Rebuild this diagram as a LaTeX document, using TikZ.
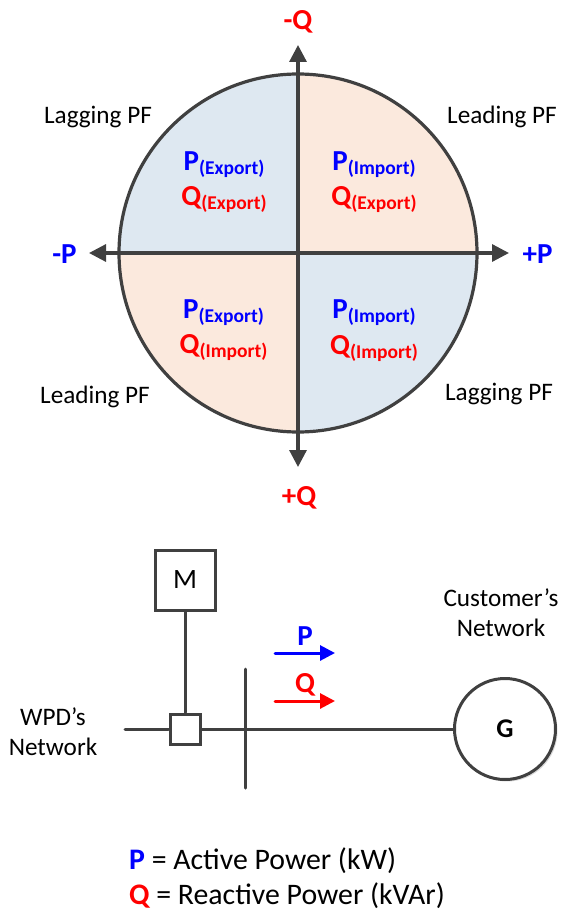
\documentclass[tikz,border=0pt]{standalone}
\usepackage{fontspec}
\setmainfont{Carlito}
\usetikzlibrary{arrows.meta,shadows}
\definecolor{ln}{HTML}{404040}
\definecolor{qb}{HTML}{DEE8F1}
\definecolor{qo}{HTML}{FBE9DD}
\definecolor{pblue}{HTML}{0000FF}
\definecolor{qred}{HTML}{FF0000}
\tikzset{
  axis/.style={draw=ln,line width=3.2pt,-{Triangle[length=17pt,width=17pt]}},
  bline/.style={draw=ln,line width=3pt,line cap=round},
  soft/.style={drop shadow={shadow xshift=2pt,shadow yshift=-2pt,opacity=.25,fill=black!60}},
  box/.style={draw=ln,line width=3pt,fill=white,minimum size=#1,inner sep=0pt,soft},
  lbl/.style={font=\fontsize{25.2}{30}\selectfont,text=black,align=center,inner sep=0pt},
  bigP/.style={font=\fontsize{29}{32}\selectfont\bfseries,text=pblue,inner sep=0pt},
  bigQ/.style={font=\fontsize{29}{32}\selectfont\bfseries,text=qred,inner sep=0pt},
  quadP/.style={text=pblue,font=\bfseries,inner sep=0pt},
  quadQ/.style={text=qred,font=\bfseries,inner sep=0pt},
  flowP/.style={draw=pblue,line width=3pt,line cap=round,-{Triangle[length=15pt,width=15pt]}},
  flowQ/.style={draw=qred,line width=3pt,line cap=round,-{Triangle[length=15pt,width=15pt]}},
}
\newcommand{\sbP}[1]{{\fontsize{29}{32}\selectfont P}\raisebox{-4pt}{\fontsize{19.5}{22}\selectfont(#1)}}
\newcommand{\sbQ}[1]{{\fontsize{29}{32}\selectfont Q}\raisebox{-4pt}{\fontsize{19.5}{22}\selectfont(#1)}}
\begin{document}
\begin{tikzpicture}[x=1pt,y=-1pt]
\useasboundingbox (0,0) rectangle (565,912);
% quadrants
\begin{scope}
\clip (298,253) circle[radius=179pt];
\fill[qb] (119,74) rectangle (298,253);
\fill[qo] (298,74) rectangle (477,253);
\fill[qo] (119,253) rectangle (298,432);
\fill[qb] (298,253) rectangle (477,432);
\end{scope}
\node[draw=ln,line width=3.2pt,circle,minimum size=358pt,inner sep=0pt] (pq) at (298,253) {};
% axes
\coordinate (left) at (89,253);
\coordinate (right) at (509,253);
\coordinate (top) at (298,45);
\coordinate (bottom) at (298,467);
\draw[axis] (pq.center) -- (left);
\draw[axis] (pq.center) -- (right);
\draw[axis] (pq.center) -- (top);
\draw[axis] (pq.center) -- (bottom);
% axis labels
\node[bigQ] (mq) at (298,22) {-Q};
\node[bigQ] (pqq) at (299,498) {+Q};
\node[bigP] (mp) at (64.5,254) {-P};
\node[bigP] (pp) at (537.5,254) {+P};
% PF labels
\node[lbl] (l1) at (98,117) {Lagging PF};
\node[lbl] (l2) at (502,117) {Leading PF};
\node[lbl] (l3) at (95,397) {Leading PF};
\node[lbl] (l4) at (499,394) {Lagging PF};
% quadrant labels
\node[quadP] (a1) at (224,165) {\sbP{Export}};
\node[quadQ] (a2) at (224,200) {\sbQ{Export}};
\node[quadP] (b1) at (374,165) {\sbP{Import}};
\node[quadQ] (b2) at (374,200) {\sbQ{Export}};
\node[quadP] (c1) at (223.5,313) {\sbP{Export}};
\node[quadQ] (c2) at (223.5,348) {\sbQ{Import}};
\node[quadP] (d1) at (374,313) {\sbP{Import}};
\node[quadQ] (d2) at (374,349) {\sbQ{Import}};
% single-line diagram
\coordinate (wpd) at (125,729);
\coordinate (bt) at (245,669);
\coordinate (bb) at (245,788);
\node[box=60pt,font=\fontsize{28}{32}\selectfont] (m) at (185,580) {M};
\node[draw=ln,line width=3pt,circle,fill=white,minimum size=101pt,inner sep=0pt,soft,font=\fontsize{27}{30}\selectfont\bfseries] (g) at (505,729) {G};
\node[box=30pt] (s) at (185,729) {};
\draw[bline] (m) -- (s);
\draw[bline] (wpd) -- (s);
\draw[bline] (s) -- (g);
\draw[bline] (bt) -- (bb);
% flows
\coordinate (p1) at (275,653);
\coordinate (p2) at (335,653);
\coordinate (q1) at (275,701);
\coordinate (q2) at (335,701);
\draw[flowP] (p1) -- (p2);
\draw[flowQ] (q1) -- (q2);
\node[bigP] (pl) at (305,636) {P};
\node[bigQ] (ql) at (305,685) {Q};
% network labels
\node[lbl] (wn) at (53,732) {WPD’s\\Network};
\node[lbl] (cn) at (501,613) {Customer’s\\Network};
% legend
\node[anchor=west,inner sep=0pt,font=\fontsize{29.8}{34}\selectfont] (lg1) at (129,861) {{\color{pblue}\bfseries P} = Active Power (kW)};
\node[anchor=west,inner sep=0pt,font=\fontsize{29.8}{34}\selectfont] (lg2) at (129,896) {{\color{qred}\bfseries Q} = Reactive Power (kVAr)};
\end{tikzpicture}
\end{document}
